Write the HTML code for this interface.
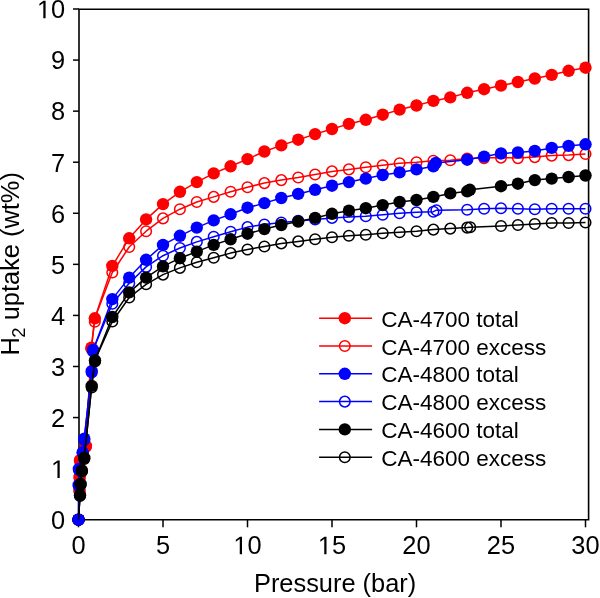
<!DOCTYPE html>
<html><head><meta charset="utf-8"><title>H2 uptake</title>
<style>
html,body{margin:0;padding:0;background:#fff;}
body{width:600px;height:598px;overflow:hidden;}
svg{display:block;will-change:transform;}
text{font-family:"Liberation Sans",sans-serif;fill:#000;}
.t{font-size:25.4px;}
.l{font-size:22.5px;}
.sub{font-size:18.5px;}
</style></head>
<body>
<svg width="600" height="598" viewBox="0 0 600 598">
<rect width="600" height="598" fill="#fff"/>
<path d="M79.0,9.2 H588.6 V519.7 H79.0 Z" fill="none" stroke="#000" stroke-width="1.6"/>
<line x1="73.0" y1="519.70" x2="79.0" y2="519.70" stroke="#000" stroke-width="1.5"/>
<text x="51.07" y="529.00" class="t">0</text>
<line x1="73.0" y1="468.63" x2="79.0" y2="468.63" stroke="#000" stroke-width="1.5"/>
<path d="M515,0 L515,1237 L197,1010 L197,1180 L530,1409 L696,1409 L696,0 Z" transform="translate(51.07,477.93) scale(0.01240,-0.01240)" fill="#000"/>
<line x1="73.0" y1="417.56" x2="79.0" y2="417.56" stroke="#000" stroke-width="1.5"/>
<text x="51.07" y="426.86" class="t">2</text>
<line x1="73.0" y1="366.49" x2="79.0" y2="366.49" stroke="#000" stroke-width="1.5"/>
<text x="51.07" y="375.79" class="t">3</text>
<line x1="73.0" y1="315.42" x2="79.0" y2="315.42" stroke="#000" stroke-width="1.5"/>
<text x="51.07" y="324.72" class="t">4</text>
<line x1="73.0" y1="264.35" x2="79.0" y2="264.35" stroke="#000" stroke-width="1.5"/>
<text x="51.07" y="273.65" class="t">5</text>
<line x1="73.0" y1="213.28" x2="79.0" y2="213.28" stroke="#000" stroke-width="1.5"/>
<text x="51.07" y="222.58" class="t">6</text>
<line x1="73.0" y1="162.21" x2="79.0" y2="162.21" stroke="#000" stroke-width="1.5"/>
<text x="51.07" y="171.51" class="t">7</text>
<line x1="73.0" y1="111.14" x2="79.0" y2="111.14" stroke="#000" stroke-width="1.5"/>
<text x="51.07" y="120.44" class="t">8</text>
<line x1="73.0" y1="60.07" x2="79.0" y2="60.07" stroke="#000" stroke-width="1.5"/>
<text x="51.07" y="69.37" class="t">9</text>
<line x1="73.0" y1="9.00" x2="79.0" y2="9.00" stroke="#000" stroke-width="1.5"/>
<path d="M515,0 L515,1237 L197,1010 L197,1180 L530,1409 L696,1409 L696,0 Z" transform="translate(36.95,18.30) scale(0.01240,-0.01240)" fill="#000"/><text x="51.07" y="18.30" class="t">0</text>
<line x1="78.50" y1="519.7" x2="78.50" y2="527.3" stroke="#000" stroke-width="1.5"/>
<text x="71.44" y="554.30" class="t">0</text>
<line x1="163.00" y1="519.7" x2="163.00" y2="527.3" stroke="#000" stroke-width="1.5"/>
<text x="155.94" y="554.30" class="t">5</text>
<line x1="247.50" y1="519.7" x2="247.50" y2="527.3" stroke="#000" stroke-width="1.5"/>
<path d="M515,0 L515,1237 L197,1010 L197,1180 L530,1409 L696,1409 L696,0 Z" transform="translate(233.37,554.30) scale(0.01240,-0.01240)" fill="#000"/><text x="247.50" y="554.30" class="t">0</text>
<line x1="332.00" y1="519.7" x2="332.00" y2="527.3" stroke="#000" stroke-width="1.5"/>
<path d="M515,0 L515,1237 L197,1010 L197,1180 L530,1409 L696,1409 L696,0 Z" transform="translate(317.87,554.30) scale(0.01240,-0.01240)" fill="#000"/><text x="332.00" y="554.30" class="t">5</text>
<line x1="416.50" y1="519.7" x2="416.50" y2="527.3" stroke="#000" stroke-width="1.5"/>
<text x="402.37" y="554.30" class="t">2</text><text x="416.50" y="554.30" class="t">0</text>
<line x1="501.00" y1="519.7" x2="501.00" y2="527.3" stroke="#000" stroke-width="1.5"/>
<text x="486.87" y="554.30" class="t">2</text><text x="501.00" y="554.30" class="t">5</text>
<line x1="585.50" y1="519.7" x2="585.50" y2="527.3" stroke="#000" stroke-width="1.5"/>
<text x="571.37" y="554.30" class="t">3</text><text x="585.50" y="554.30" class="t">0</text>
<text x="335.1" y="592" text-anchor="middle" class="t">Pressure (bar)</text>
<text transform="translate(18.8,355.6) rotate(-90)" x="0" y="0" class="t">H<tspan class="sub" dx="-0.4" dy="6.4">2</tspan><tspan dy="-6.4"> uptake (wt%)</tspan></text>
<path d="M78.5,519.7 L79.5,490.4 L79.6,477.0 L80.0,460.2 L85.9,445.9 L91.4,347.7 L94.8,318.3 L112.3,272.5 L129.2,247.0 L146.1,231.2 L163.0,218.4 L179.9,209.2 L196.8,202.0 L213.7,196.9 L230.6,191.8 L247.5,187.2 L264.4,183.1 L281.3,180.1 L298.2,177.5 L315.1,174.5 L332.0,171.4 L348.9,169.4 L365.8,167.3 L382.7,165.3 L399.6,163.2 L416.5,162.2 L433.4,160.7 L450.3,160.2 L467.2,158.6 L484.1,158.1 L501.0,157.6 L517.9,158.1 L534.8,157.1 L551.7,155.6 L568.6,155.1 L585.5,154.0" fill="none" stroke="#ff0000" stroke-width="1.5" stroke-linejoin="round"/>
<circle cx="78.5" cy="519.7" r="5.3" fill="none" stroke="#ff0000" stroke-width="1.5"/>
<circle cx="79.5" cy="491.0" r="5.3" fill="none" stroke="#ff0000" stroke-width="1.5"/>
<circle cx="79.6" cy="478.0" r="5.3" fill="none" stroke="#ff0000" stroke-width="1.5"/>
<circle cx="80.0" cy="461.0" r="5.3" fill="none" stroke="#ff0000" stroke-width="1.5"/>
<circle cx="85.9" cy="447.0" r="5.3" fill="none" stroke="#ff0000" stroke-width="1.5"/>
<circle cx="91.4" cy="349.0" r="5.3" fill="none" stroke="#ff0000" stroke-width="1.5"/>
<circle cx="94.8" cy="321.8" r="5.3" fill="none" stroke="#ff0000" stroke-width="1.5"/>
<circle cx="112.3" cy="272.5" r="5.3" fill="none" stroke="#ff0000" stroke-width="1.5"/>
<circle cx="129.2" cy="247.0" r="5.3" fill="none" stroke="#ff0000" stroke-width="1.5"/>
<circle cx="146.1" cy="231.2" r="5.3" fill="none" stroke="#ff0000" stroke-width="1.5"/>
<circle cx="163.0" cy="218.4" r="5.3" fill="none" stroke="#ff0000" stroke-width="1.5"/>
<circle cx="179.9" cy="209.2" r="5.3" fill="none" stroke="#ff0000" stroke-width="1.5"/>
<circle cx="196.8" cy="202.0" r="5.3" fill="none" stroke="#ff0000" stroke-width="1.5"/>
<circle cx="213.7" cy="196.9" r="5.3" fill="none" stroke="#ff0000" stroke-width="1.5"/>
<circle cx="230.6" cy="191.8" r="5.3" fill="none" stroke="#ff0000" stroke-width="1.5"/>
<circle cx="247.5" cy="187.2" r="5.3" fill="none" stroke="#ff0000" stroke-width="1.5"/>
<circle cx="264.4" cy="183.1" r="5.3" fill="none" stroke="#ff0000" stroke-width="1.5"/>
<circle cx="281.3" cy="180.1" r="5.3" fill="none" stroke="#ff0000" stroke-width="1.5"/>
<circle cx="298.2" cy="177.5" r="5.3" fill="none" stroke="#ff0000" stroke-width="1.5"/>
<circle cx="315.1" cy="174.5" r="5.3" fill="none" stroke="#ff0000" stroke-width="1.5"/>
<circle cx="332.0" cy="171.4" r="5.3" fill="none" stroke="#ff0000" stroke-width="1.5"/>
<circle cx="348.9" cy="169.4" r="5.3" fill="none" stroke="#ff0000" stroke-width="1.5"/>
<circle cx="365.8" cy="167.3" r="5.3" fill="none" stroke="#ff0000" stroke-width="1.5"/>
<circle cx="382.7" cy="165.3" r="5.3" fill="none" stroke="#ff0000" stroke-width="1.5"/>
<circle cx="399.6" cy="163.2" r="5.3" fill="none" stroke="#ff0000" stroke-width="1.5"/>
<circle cx="416.5" cy="162.2" r="5.3" fill="none" stroke="#ff0000" stroke-width="1.5"/>
<circle cx="433.4" cy="160.7" r="5.3" fill="none" stroke="#ff0000" stroke-width="1.5"/>
<circle cx="450.3" cy="160.2" r="5.3" fill="none" stroke="#ff0000" stroke-width="1.5"/>
<circle cx="467.2" cy="158.6" r="5.3" fill="none" stroke="#ff0000" stroke-width="1.5"/>
<circle cx="484.1" cy="158.1" r="5.3" fill="none" stroke="#ff0000" stroke-width="1.5"/>
<circle cx="501.0" cy="157.6" r="5.3" fill="none" stroke="#ff0000" stroke-width="1.5"/>
<circle cx="517.9" cy="158.1" r="5.3" fill="none" stroke="#ff0000" stroke-width="1.5"/>
<circle cx="534.8" cy="157.1" r="5.3" fill="none" stroke="#ff0000" stroke-width="1.5"/>
<circle cx="551.7" cy="155.6" r="5.3" fill="none" stroke="#ff0000" stroke-width="1.5"/>
<circle cx="568.6" cy="155.1" r="5.3" fill="none" stroke="#ff0000" stroke-width="1.5"/>
<circle cx="585.5" cy="154.0" r="5.3" fill="none" stroke="#ff0000" stroke-width="1.5"/>
<path d="M78.5,519.7 L79.5,490.4 L79.6,477.0 L80.0,460.2 L85.9,445.9 L91.4,347.7 L94.8,318.3 L112.3,265.9 L129.2,238.3 L146.1,219.4 L163.0,204.1 L179.9,191.8 L196.8,182.1 L213.7,173.4 L230.6,166.3 L247.5,159.1 L264.4,151.5 L281.3,145.4 L298.2,139.7 L315.1,134.1 L332.0,129.0 L348.9,123.9 L365.8,119.8 L382.7,114.7 L399.6,109.6 L416.5,105.5 L433.4,100.9 L450.3,97.4 L467.2,92.8 L484.1,89.2 L501.0,85.6 L517.9,82.0 L534.8,78.5 L551.7,74.9 L568.6,70.8 L585.5,67.7" fill="none" stroke="#ff0000" stroke-width="1.5" stroke-linejoin="round"/>
<circle cx="78.5" cy="519.7" r="6.2" fill="#ff0000"/>
<circle cx="79.5" cy="490.4" r="6.2" fill="#ff0000"/>
<circle cx="79.6" cy="477.0" r="6.2" fill="#ff0000"/>
<circle cx="80.0" cy="460.2" r="6.2" fill="#ff0000"/>
<circle cx="85.9" cy="445.9" r="6.2" fill="#ff0000"/>
<circle cx="91.4" cy="347.7" r="6.2" fill="#ff0000"/>
<circle cx="94.8" cy="318.3" r="6.2" fill="#ff0000"/>
<circle cx="112.3" cy="265.9" r="6.2" fill="#ff0000"/>
<circle cx="129.2" cy="238.3" r="6.2" fill="#ff0000"/>
<circle cx="146.1" cy="219.4" r="6.2" fill="#ff0000"/>
<circle cx="163.0" cy="204.1" r="6.2" fill="#ff0000"/>
<circle cx="179.9" cy="191.8" r="6.2" fill="#ff0000"/>
<circle cx="196.8" cy="182.1" r="6.2" fill="#ff0000"/>
<circle cx="213.7" cy="173.4" r="6.2" fill="#ff0000"/>
<circle cx="230.6" cy="166.3" r="6.2" fill="#ff0000"/>
<circle cx="247.5" cy="159.1" r="6.2" fill="#ff0000"/>
<circle cx="264.4" cy="151.5" r="6.2" fill="#ff0000"/>
<circle cx="281.3" cy="145.4" r="6.2" fill="#ff0000"/>
<circle cx="298.2" cy="139.7" r="6.2" fill="#ff0000"/>
<circle cx="315.1" cy="134.1" r="6.2" fill="#ff0000"/>
<circle cx="332.0" cy="129.0" r="6.2" fill="#ff0000"/>
<circle cx="348.9" cy="123.9" r="6.2" fill="#ff0000"/>
<circle cx="365.8" cy="119.8" r="6.2" fill="#ff0000"/>
<circle cx="382.7" cy="114.7" r="6.2" fill="#ff0000"/>
<circle cx="399.6" cy="109.6" r="6.2" fill="#ff0000"/>
<circle cx="416.5" cy="105.5" r="6.2" fill="#ff0000"/>
<circle cx="433.4" cy="100.9" r="6.2" fill="#ff0000"/>
<circle cx="450.3" cy="97.4" r="6.2" fill="#ff0000"/>
<circle cx="467.2" cy="92.8" r="6.2" fill="#ff0000"/>
<circle cx="484.1" cy="89.2" r="6.2" fill="#ff0000"/>
<circle cx="501.0" cy="85.6" r="6.2" fill="#ff0000"/>
<circle cx="517.9" cy="82.0" r="6.2" fill="#ff0000"/>
<circle cx="534.8" cy="78.5" r="6.2" fill="#ff0000"/>
<circle cx="551.7" cy="74.9" r="6.2" fill="#ff0000"/>
<circle cx="568.6" cy="70.8" r="6.2" fill="#ff0000"/>
<circle cx="585.5" cy="67.7" r="6.2" fill="#ff0000"/>
<path d="M78.5,519.7 L78.7,485.0 L78.9,469.0 L82.7,452.3 L84.3,438.7 L91.7,371.1 L93.1,350.0 L112.3,303.7 L129.2,283.2 L146.1,266.9 L163.0,255.7 L179.9,248.0 L196.8,241.9 L213.7,236.8 L230.6,231.7 L247.5,227.1 L264.4,224.5 L281.3,222.5 L298.2,220.9 L315.1,219.4 L332.0,217.9 L348.9,216.9 L365.8,216.3 L382.7,214.8 L399.6,213.3 L416.5,212.3 L433.4,211.7 L436.4,210.2 L467.2,209.7 L484.1,208.7 L501.0,208.2 L517.9,208.7 L534.8,209.2 L551.7,208.7 L568.6,208.7 L585.5,208.7" fill="none" stroke="#0000ff" stroke-width="1.5" stroke-linejoin="round"/>
<circle cx="78.5" cy="519.7" r="5.3" fill="none" stroke="#0000ff" stroke-width="1.5"/>
<circle cx="78.7" cy="486.0" r="5.3" fill="none" stroke="#0000ff" stroke-width="1.5"/>
<circle cx="78.9" cy="470.0" r="5.3" fill="none" stroke="#0000ff" stroke-width="1.5"/>
<circle cx="82.7" cy="453.0" r="5.3" fill="none" stroke="#0000ff" stroke-width="1.5"/>
<circle cx="84.3" cy="440.0" r="5.3" fill="none" stroke="#0000ff" stroke-width="1.5"/>
<circle cx="91.7" cy="372.5" r="5.3" fill="none" stroke="#0000ff" stroke-width="1.5"/>
<circle cx="93.1" cy="351.5" r="5.3" fill="none" stroke="#0000ff" stroke-width="1.5"/>
<circle cx="112.3" cy="303.7" r="5.3" fill="none" stroke="#0000ff" stroke-width="1.5"/>
<circle cx="129.2" cy="283.2" r="5.3" fill="none" stroke="#0000ff" stroke-width="1.5"/>
<circle cx="146.1" cy="266.9" r="5.3" fill="none" stroke="#0000ff" stroke-width="1.5"/>
<circle cx="163.0" cy="255.7" r="5.3" fill="none" stroke="#0000ff" stroke-width="1.5"/>
<circle cx="179.9" cy="248.0" r="5.3" fill="none" stroke="#0000ff" stroke-width="1.5"/>
<circle cx="196.8" cy="241.9" r="5.3" fill="none" stroke="#0000ff" stroke-width="1.5"/>
<circle cx="213.7" cy="236.8" r="5.3" fill="none" stroke="#0000ff" stroke-width="1.5"/>
<circle cx="230.6" cy="231.7" r="5.3" fill="none" stroke="#0000ff" stroke-width="1.5"/>
<circle cx="247.5" cy="227.1" r="5.3" fill="none" stroke="#0000ff" stroke-width="1.5"/>
<circle cx="264.4" cy="224.5" r="5.3" fill="none" stroke="#0000ff" stroke-width="1.5"/>
<circle cx="281.3" cy="222.5" r="5.3" fill="none" stroke="#0000ff" stroke-width="1.5"/>
<circle cx="298.2" cy="220.9" r="5.3" fill="none" stroke="#0000ff" stroke-width="1.5"/>
<circle cx="315.1" cy="219.4" r="5.3" fill="none" stroke="#0000ff" stroke-width="1.5"/>
<circle cx="332.0" cy="217.9" r="5.3" fill="none" stroke="#0000ff" stroke-width="1.5"/>
<circle cx="348.9" cy="216.9" r="5.3" fill="none" stroke="#0000ff" stroke-width="1.5"/>
<circle cx="365.8" cy="216.3" r="5.3" fill="none" stroke="#0000ff" stroke-width="1.5"/>
<circle cx="382.7" cy="214.8" r="5.3" fill="none" stroke="#0000ff" stroke-width="1.5"/>
<circle cx="399.6" cy="213.3" r="5.3" fill="none" stroke="#0000ff" stroke-width="1.5"/>
<circle cx="416.5" cy="212.3" r="5.3" fill="none" stroke="#0000ff" stroke-width="1.5"/>
<circle cx="433.4" cy="211.7" r="5.3" fill="none" stroke="#0000ff" stroke-width="1.5"/>
<circle cx="436.4" cy="210.2" r="5.3" fill="none" stroke="#0000ff" stroke-width="1.5"/>
<circle cx="467.2" cy="209.7" r="5.3" fill="none" stroke="#0000ff" stroke-width="1.5"/>
<circle cx="484.1" cy="208.7" r="5.3" fill="none" stroke="#0000ff" stroke-width="1.5"/>
<circle cx="501.0" cy="208.2" r="5.3" fill="none" stroke="#0000ff" stroke-width="1.5"/>
<circle cx="517.9" cy="208.7" r="5.3" fill="none" stroke="#0000ff" stroke-width="1.5"/>
<circle cx="534.8" cy="209.2" r="5.3" fill="none" stroke="#0000ff" stroke-width="1.5"/>
<circle cx="551.7" cy="208.7" r="5.3" fill="none" stroke="#0000ff" stroke-width="1.5"/>
<circle cx="568.6" cy="208.7" r="5.3" fill="none" stroke="#0000ff" stroke-width="1.5"/>
<circle cx="585.5" cy="208.7" r="5.3" fill="none" stroke="#0000ff" stroke-width="1.5"/>
<path d="M78.5,519.7 L78.7,485.0 L78.9,469.0 L82.7,452.3 L84.3,438.7 L91.7,371.1 L93.1,350.0 L112.3,299.1 L129.2,277.6 L146.1,259.8 L163.0,244.9 L179.9,235.8 L196.8,227.6 L213.7,220.4 L230.6,214.3 L247.5,207.7 L264.4,203.1 L281.3,198.0 L298.2,193.9 L315.1,189.8 L332.0,185.7 L348.9,182.1 L365.8,178.6 L382.7,175.0 L399.6,172.4 L416.5,169.4 L433.4,166.3 L435.8,162.9 L467.2,159.7 L484.1,156.6 L501.0,153.5 L517.9,152.5 L534.8,151.0 L551.7,147.9 L568.6,145.9 L585.5,144.3" fill="none" stroke="#0000ff" stroke-width="1.5" stroke-linejoin="round"/>
<circle cx="78.5" cy="519.7" r="6.2" fill="#0000ff"/>
<circle cx="78.7" cy="485.0" r="6.2" fill="#0000ff"/>
<circle cx="78.9" cy="469.0" r="6.2" fill="#0000ff"/>
<circle cx="82.7" cy="452.3" r="6.2" fill="#0000ff"/>
<circle cx="84.3" cy="438.7" r="6.2" fill="#0000ff"/>
<circle cx="91.7" cy="371.1" r="6.2" fill="#0000ff"/>
<circle cx="93.1" cy="350.0" r="6.2" fill="#0000ff"/>
<circle cx="112.3" cy="299.1" r="6.2" fill="#0000ff"/>
<circle cx="129.2" cy="277.6" r="6.2" fill="#0000ff"/>
<circle cx="146.1" cy="259.8" r="6.2" fill="#0000ff"/>
<circle cx="163.0" cy="244.9" r="6.2" fill="#0000ff"/>
<circle cx="179.9" cy="235.8" r="6.2" fill="#0000ff"/>
<circle cx="196.8" cy="227.6" r="6.2" fill="#0000ff"/>
<circle cx="213.7" cy="220.4" r="6.2" fill="#0000ff"/>
<circle cx="230.6" cy="214.3" r="6.2" fill="#0000ff"/>
<circle cx="247.5" cy="207.7" r="6.2" fill="#0000ff"/>
<circle cx="264.4" cy="203.1" r="6.2" fill="#0000ff"/>
<circle cx="281.3" cy="198.0" r="6.2" fill="#0000ff"/>
<circle cx="298.2" cy="193.9" r="6.2" fill="#0000ff"/>
<circle cx="315.1" cy="189.8" r="6.2" fill="#0000ff"/>
<circle cx="332.0" cy="185.7" r="6.2" fill="#0000ff"/>
<circle cx="348.9" cy="182.1" r="6.2" fill="#0000ff"/>
<circle cx="365.8" cy="178.6" r="6.2" fill="#0000ff"/>
<circle cx="382.7" cy="175.0" r="6.2" fill="#0000ff"/>
<circle cx="399.6" cy="172.4" r="6.2" fill="#0000ff"/>
<circle cx="416.5" cy="169.4" r="6.2" fill="#0000ff"/>
<circle cx="433.4" cy="166.3" r="6.2" fill="#0000ff"/>
<circle cx="435.8" cy="162.9" r="6.2" fill="#0000ff"/>
<circle cx="467.2" cy="159.7" r="6.2" fill="#0000ff"/>
<circle cx="484.1" cy="156.6" r="6.2" fill="#0000ff"/>
<circle cx="501.0" cy="153.5" r="6.2" fill="#0000ff"/>
<circle cx="517.9" cy="152.5" r="6.2" fill="#0000ff"/>
<circle cx="534.8" cy="151.0" r="6.2" fill="#0000ff"/>
<circle cx="551.7" cy="147.9" r="6.2" fill="#0000ff"/>
<circle cx="568.6" cy="145.9" r="6.2" fill="#0000ff"/>
<circle cx="585.5" cy="144.3" r="6.2" fill="#0000ff"/>
<path d="M78.5,519.7 L80.0,495.2 L80.6,484.0 L81.9,470.5 L84.3,457.8 L91.7,385.9 L95.0,360.3 L112.3,321.5 L129.2,297.5 L146.1,284.3 L163.0,274.6 L179.9,267.9 L196.8,262.3 L213.7,257.7 L230.6,253.1 L247.5,249.5 L264.4,246.5 L281.3,243.4 L298.2,241.4 L315.1,239.3 L332.0,237.3 L348.9,235.8 L365.8,234.7 L382.7,233.2 L399.6,232.2 L416.5,231.2 L433.4,229.6 L450.3,228.6 L467.2,227.6 L470.2,227.3 L501.0,226.0 L517.9,225.0 L534.8,224.0 L551.7,223.0 L568.6,223.0 L585.5,222.5" fill="none" stroke="#000000" stroke-width="1.5" stroke-linejoin="round"/>
<circle cx="78.5" cy="519.7" r="5.3" fill="none" stroke="#000000" stroke-width="1.5"/>
<circle cx="80.0" cy="496.0" r="5.3" fill="none" stroke="#000000" stroke-width="1.5"/>
<circle cx="80.6" cy="485.0" r="5.3" fill="none" stroke="#000000" stroke-width="1.5"/>
<circle cx="81.9" cy="471.5" r="5.3" fill="none" stroke="#000000" stroke-width="1.5"/>
<circle cx="84.3" cy="459.0" r="5.3" fill="none" stroke="#000000" stroke-width="1.5"/>
<circle cx="91.7" cy="387.5" r="5.3" fill="none" stroke="#000000" stroke-width="1.5"/>
<circle cx="95.0" cy="361.5" r="5.3" fill="none" stroke="#000000" stroke-width="1.5"/>
<circle cx="112.3" cy="321.5" r="5.3" fill="none" stroke="#000000" stroke-width="1.5"/>
<circle cx="129.2" cy="297.5" r="5.3" fill="none" stroke="#000000" stroke-width="1.5"/>
<circle cx="146.1" cy="284.3" r="5.3" fill="none" stroke="#000000" stroke-width="1.5"/>
<circle cx="163.0" cy="274.6" r="5.3" fill="none" stroke="#000000" stroke-width="1.5"/>
<circle cx="179.9" cy="267.9" r="5.3" fill="none" stroke="#000000" stroke-width="1.5"/>
<circle cx="196.8" cy="262.3" r="5.3" fill="none" stroke="#000000" stroke-width="1.5"/>
<circle cx="213.7" cy="257.7" r="5.3" fill="none" stroke="#000000" stroke-width="1.5"/>
<circle cx="230.6" cy="253.1" r="5.3" fill="none" stroke="#000000" stroke-width="1.5"/>
<circle cx="247.5" cy="249.5" r="5.3" fill="none" stroke="#000000" stroke-width="1.5"/>
<circle cx="264.4" cy="246.5" r="5.3" fill="none" stroke="#000000" stroke-width="1.5"/>
<circle cx="281.3" cy="243.4" r="5.3" fill="none" stroke="#000000" stroke-width="1.5"/>
<circle cx="298.2" cy="241.4" r="5.3" fill="none" stroke="#000000" stroke-width="1.5"/>
<circle cx="315.1" cy="239.3" r="5.3" fill="none" stroke="#000000" stroke-width="1.5"/>
<circle cx="332.0" cy="237.3" r="5.3" fill="none" stroke="#000000" stroke-width="1.5"/>
<circle cx="348.9" cy="235.8" r="5.3" fill="none" stroke="#000000" stroke-width="1.5"/>
<circle cx="365.8" cy="234.7" r="5.3" fill="none" stroke="#000000" stroke-width="1.5"/>
<circle cx="382.7" cy="233.2" r="5.3" fill="none" stroke="#000000" stroke-width="1.5"/>
<circle cx="399.6" cy="232.2" r="5.3" fill="none" stroke="#000000" stroke-width="1.5"/>
<circle cx="416.5" cy="231.2" r="5.3" fill="none" stroke="#000000" stroke-width="1.5"/>
<circle cx="433.4" cy="229.6" r="5.3" fill="none" stroke="#000000" stroke-width="1.5"/>
<circle cx="450.3" cy="228.6" r="5.3" fill="none" stroke="#000000" stroke-width="1.5"/>
<circle cx="467.2" cy="227.6" r="5.3" fill="none" stroke="#000000" stroke-width="1.5"/>
<circle cx="470.2" cy="227.3" r="5.3" fill="none" stroke="#000000" stroke-width="1.5"/>
<circle cx="501.0" cy="226.0" r="5.3" fill="none" stroke="#000000" stroke-width="1.5"/>
<circle cx="517.9" cy="225.0" r="5.3" fill="none" stroke="#000000" stroke-width="1.5"/>
<circle cx="534.8" cy="224.0" r="5.3" fill="none" stroke="#000000" stroke-width="1.5"/>
<circle cx="551.7" cy="223.0" r="5.3" fill="none" stroke="#000000" stroke-width="1.5"/>
<circle cx="568.6" cy="223.0" r="5.3" fill="none" stroke="#000000" stroke-width="1.5"/>
<circle cx="585.5" cy="222.5" r="5.3" fill="none" stroke="#000000" stroke-width="1.5"/>
<path d="M78.5,519.7 L80.0,495.2 L80.6,484.0 L81.9,470.5 L84.3,457.8 L91.7,385.9 L95.0,360.3 L112.3,317.0 L129.2,292.4 L146.1,277.6 L163.0,266.4 L179.9,258.2 L196.8,251.6 L213.7,244.9 L230.6,239.3 L247.5,233.7 L264.4,229.1 L281.3,225.0 L298.2,221.5 L315.1,217.9 L332.0,213.8 L348.9,210.7 L365.8,208.2 L382.7,205.1 L399.6,202.0 L416.5,200.0 L433.4,196.9 L450.3,193.4 L467.2,191.3 L469.8,189.8 L501.0,186.2 L517.9,183.7 L534.8,180.1 L551.7,178.6 L568.6,177.0 L585.5,175.5" fill="none" stroke="#000000" stroke-width="1.5" stroke-linejoin="round"/>
<circle cx="78.5" cy="519.7" r="6.2" fill="#000000"/>
<circle cx="80.0" cy="495.2" r="6.2" fill="#000000"/>
<circle cx="80.6" cy="484.0" r="6.2" fill="#000000"/>
<circle cx="81.9" cy="470.5" r="6.2" fill="#000000"/>
<circle cx="84.3" cy="457.8" r="6.2" fill="#000000"/>
<circle cx="91.7" cy="385.9" r="6.2" fill="#000000"/>
<circle cx="95.0" cy="360.3" r="6.2" fill="#000000"/>
<circle cx="112.3" cy="317.0" r="6.2" fill="#000000"/>
<circle cx="129.2" cy="292.4" r="6.2" fill="#000000"/>
<circle cx="146.1" cy="277.6" r="6.2" fill="#000000"/>
<circle cx="163.0" cy="266.4" r="6.2" fill="#000000"/>
<circle cx="179.9" cy="258.2" r="6.2" fill="#000000"/>
<circle cx="196.8" cy="251.6" r="6.2" fill="#000000"/>
<circle cx="213.7" cy="244.9" r="6.2" fill="#000000"/>
<circle cx="230.6" cy="239.3" r="6.2" fill="#000000"/>
<circle cx="247.5" cy="233.7" r="6.2" fill="#000000"/>
<circle cx="264.4" cy="229.1" r="6.2" fill="#000000"/>
<circle cx="281.3" cy="225.0" r="6.2" fill="#000000"/>
<circle cx="298.2" cy="221.5" r="6.2" fill="#000000"/>
<circle cx="315.1" cy="217.9" r="6.2" fill="#000000"/>
<circle cx="332.0" cy="213.8" r="6.2" fill="#000000"/>
<circle cx="348.9" cy="210.7" r="6.2" fill="#000000"/>
<circle cx="365.8" cy="208.2" r="6.2" fill="#000000"/>
<circle cx="382.7" cy="205.1" r="6.2" fill="#000000"/>
<circle cx="399.6" cy="202.0" r="6.2" fill="#000000"/>
<circle cx="416.5" cy="200.0" r="6.2" fill="#000000"/>
<circle cx="433.4" cy="196.9" r="6.2" fill="#000000"/>
<circle cx="450.3" cy="193.4" r="6.2" fill="#000000"/>
<circle cx="467.2" cy="191.3" r="6.2" fill="#000000"/>
<circle cx="469.8" cy="189.8" r="6.2" fill="#000000"/>
<circle cx="501.0" cy="186.2" r="6.2" fill="#000000"/>
<circle cx="517.9" cy="183.7" r="6.2" fill="#000000"/>
<circle cx="534.8" cy="180.1" r="6.2" fill="#000000"/>
<circle cx="551.7" cy="178.6" r="6.2" fill="#000000"/>
<circle cx="568.6" cy="177.0" r="6.2" fill="#000000"/>
<circle cx="585.5" cy="175.5" r="6.2" fill="#000000"/>
<circle cx="78.5" cy="519.7" r="6.2" fill="#0000ff"/>
<path d="M78.5,519.7 L80.0,495.2" stroke="#000" stroke-width="1.5"/>
<line x1="319.1" y1="318.20" x2="372.1" y2="318.20" stroke="#ff0000" stroke-width="1.5"/>
<circle cx="344.8" cy="318.20" r="6.2" fill="#ff0000"/>
<text x="381.2" y="326.70" class="l">CA-4700 total</text>
<line x1="319.1" y1="346.00" x2="372.1" y2="346.00" stroke="#ff0000" stroke-width="1.5"/>
<circle cx="344.8" cy="346.00" r="5.3" fill="none" stroke="#ff0000" stroke-width="1.5"/>
<text x="381.2" y="354.50" class="l">CA-4700 excess</text>
<line x1="319.1" y1="373.80" x2="372.1" y2="373.80" stroke="#0000ff" stroke-width="1.5"/>
<circle cx="344.8" cy="373.80" r="6.2" fill="#0000ff"/>
<text x="381.2" y="382.30" class="l">CA-4800 total</text>
<line x1="319.1" y1="401.60" x2="372.1" y2="401.60" stroke="#0000ff" stroke-width="1.5"/>
<circle cx="344.8" cy="401.60" r="5.3" fill="none" stroke="#0000ff" stroke-width="1.5"/>
<text x="381.2" y="410.10" class="l">CA-4800 excess</text>
<line x1="319.1" y1="429.40" x2="372.1" y2="429.40" stroke="#000000" stroke-width="1.5"/>
<circle cx="344.8" cy="429.40" r="6.2" fill="#000000"/>
<text x="381.2" y="437.90" class="l">CA-4600 total</text>
<line x1="319.1" y1="457.20" x2="372.1" y2="457.20" stroke="#000000" stroke-width="1.5"/>
<circle cx="344.8" cy="457.20" r="5.3" fill="none" stroke="#000000" stroke-width="1.5"/>
<text x="381.2" y="465.70" class="l">CA-4600 excess</text>
</svg>
</body></html>
